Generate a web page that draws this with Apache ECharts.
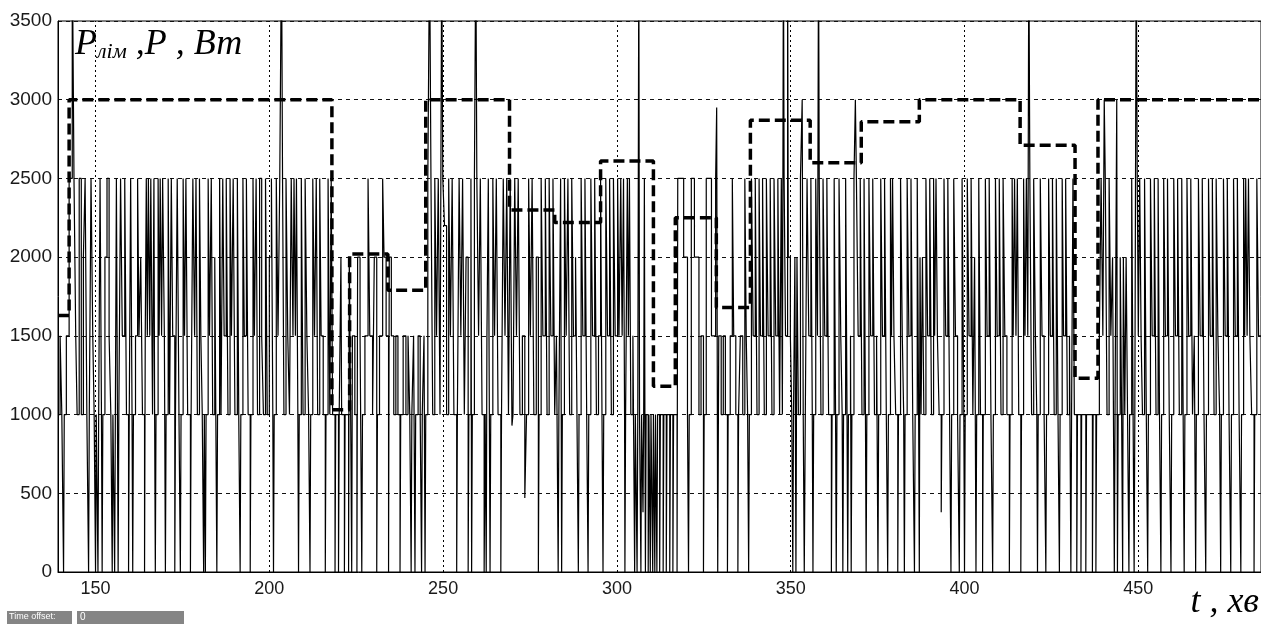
<!DOCTYPE html>
<html><head><meta charset="utf-8">
<script src="https://cdn.jsdelivr.net/npm/echarts@6/dist/echarts.min.js"></script>
<style>html,body{margin:0;padding:0;background:#fff}#c{width:1261px;height:624px}</style>
</head><body><div id="c"></div>
<script>
// x tick labels (time, min) and y ticks (W)
const xTicks = [150, 200, 250, 300, 350, 400, 450];
const yMax = 3500;

// P_lim (dashed) step data: [t, value from t on]
const pLim = [[139.2,1630],[142.4,3000],[218.0,1030],[223.1,2020],[234.1,1790],[245.0,3000],[269.1,2300],[282.1,2220],[295.3,2610],[310.5,1180],[316.8,2250],[328.6,1680],[338.4,2870],[355.6,2600],[370.3,2860],[387.0,3000],[416.0,2710],[431.8,1230],[438.4,3000],[485.3,3000]];

// P (solid) step data, read segment by segment: [t, value from t on]
const pSeg1 = [[139.2,1000],[139.8,1500],[140.3,1000],[140.8,0],[141.0,1000],[141.6,1500],[142.4,2500],[143.3,4000],[143.8,2500],[144.3,1500],[144.7,1000],[145.3,2500],[145.9,1000],[146.5,2000],[147.0,2500],[147.5,1000],[148.0,0],[148.2,1000],[148.7,2500],[149.2,1500],[149.6,1000],[150.0,0],[150.2,1000],[150.7,0],[150.9,1000],[151.3,2500],[151.7,1000],[151.9,0],[152.1,1000],[152.7,2000],[153.3,2500],[153.9,1500],[154.4,1000],[154.8,0],[155.0,1000],[155.5,0],[155.7,1000],[156.0,2500],[156.3,1000],[156.5,0],[156.7,1000],[157.2,2500],[157.7,1500],[158.4,2500],[158.9,1000],[159.5,0],[159.7,1000],[160.1,2500],[160.5,1000],[160.7,0],[160.9,1000],[161.5,1500],[162.1,2500],[162.5,1500],[163.0,2000],[163.5,1000],[164.1,0],[164.3,1500],[164.6,2500],[164.9,1500],[165.2,2500],[165.6,1500],[165.9,2500],[166.4,1000],[166.8,2500],[167.0,1000],[167.2,0],[167.4,1000],[168.0,2500],[168.3,1500],[168.6,2500],[169.0,1500],[169.3,2500],[169.8,1500],[170.1,0],[170.3,1000],[170.9,2500],[171.3,1000],[171.8,2500],[172.2,1500],[172.8,0],[173.0,1000],[173.5,2500],[174.0,1000],[174.4,0],[174.6,1000],[175.2,2500],[175.6,1500],[176.0,2500],[176.5,1000],[177.3,0],[177.5,1000],[178.0,2500],[178.5,1500],[178.9,2500],[179.3,1000],[179.9,2500],[180.3,1500],[180.7,1000],[181.1,0],[181.3,1000],[181.6,0],[181.8,1000],[182.4,2500],[182.8,1500],[183.3,2500],[183.7,1000],[184.3,2000],[184.6,1000],[184.9,0],[185.1,1000],[185.7,2500],[186.1,1000],[186.6,2500],[187.0,1500],[187.6,2500],[188.1,1000],[188.7,2500],[189.1,1500],[189.6,2500],[190.1,1000],[190.8,2500],[191.2,1000],[191.6,0],[191.8,1000],[192.4,2500],[192.8,1500],[193.4,2500],[193.9,1000],[194.5,0],[194.7,1000],[195.3,2500],[195.7,1500],[196.2,2500],[196.6,1000],[197.2,2500],[197.8,1500],[198.3,1000],[198.9,2500],[199.4,1000],[200.0,2000],[200.6,2500],[201.0,1000],[201.2,0],[201.4,1000],[202.0,2500],[202.5,1500],[203.0,2500],[203.5,4000],[203.8,2500],[204.2,1000],[204.8,2500],[205.3,1500],[205.8,1000],[206.3,2500],[206.8,1500],[207.1,2500],[207.5,1500],[207.8,2500],[208.2,1000],[208.4,0],[208.6,1000],[209.2,2500],[209.7,1000],[210.3,2500],[210.8,1500],[211.3,1000],[211.7,0],[211.9,1000],[212.5,2500],[213.0,1500],[213.5,2500],[213.9,1000],[214.5,2500],[214.9,1500],[215.5,1000],[216.1,0],[216.3,1000],[216.9,2500],[217.4,1000],[217.8,2500],[218.2,1000]];
const pSeg2 = [[218.9,0],[219.1,1000],[219.9,0],[220.1,1000],[220.6,2000],[220.8,1000],[221.6,0],[221.8,1000],[222.8,0],[223.0,2000],[223.4,1000],[223.7,0],[223.9,1500],[224.6,1000],[225.2,0],[225.4,2000],[226.1,1500],[226.6,0],[226.8,1000],[227.5,1500],[228.4,2500],[228.9,1500],[229.7,1000],[230.2,2000],[230.9,0],[231.1,1000],[231.7,1500],[232.6,2500],[233.0,2000],[233.6,1500],[234.3,0],[234.5,2000],[235.1,1500],[235.8,1000],[236.4,1500],[237.0,1000],[237.6,0],[237.8,1000],[238.5,1500],[239.3,1000],[239.9,1500],[240.4,1000],[240.8,0],[241.0,1000],[241.5,1500],[241.9,0],[242.1,1000],[242.8,1500],[243.4,1000],[243.8,0],[244.0,1000],[244.5,1500],[244.8,0],[245.0,1000]];
const pSeg3 = [[245.6,2500],[246.1,4000],[246.5,2500],[247.0,1000],[247.6,2500],[248.1,1500],[248.6,2500],[249.1,1000],[249.6,4000],[249.9,2500],[250.4,2200],[251.0,1000],[251.6,2500],[252.1,1500],[252.6,2500],[253.1,1000],[253.9,0],[254.1,1000],[254.6,2500],[255.1,1500],[255.6,2500],[256.1,1000],[256.6,2000],[257.2,0],[257.4,1000],[258.0,2500],[258.2,0],[258.4,1000],[259.0,2500],[259.4,4000],[259.7,2500],[260.2,1500],[260.7,2500],[261.2,1000],[261.8,0],[262.1,1000],[262.4,0],[262.6,1500],[263.0,2500],[263.3,1000],[263.5,0],[263.7,1000],[264.3,2500],[264.8,1500],[265.3,2500],[265.8,1000],[266.6,0],[266.8,1000],[267.3,2500],[267.8,1500],[268.3,2500],[268.8,1000],[269.3,2500],[269.8,930],[270.1,1000]];
const pSeg4 = [[270.6,2500],[271.1,1500],[271.6,2500],[272.1,1000],[272.8,1500],[273.5,470],[274.0,1000],[274.6,2500],[275.1,1500],[275.6,2500],[276.1,1000],[276.8,2000],[277.4,0],[277.6,1000],[278.2,2500],[278.7,1500],[279.4,2500],[279.9,1000],[280.5,2500],[281.0,1500],[281.6,2500],[282.1,1000],[282.6,1500],[283.1,0],[283.3,1000],[283.8,2500],[284.1,0],[284.3,1000],[284.9,2500],[285.4,1500],[285.9,2500],[286.4,1000],[287.0,2500],[287.5,1500],[288.1,2000],[288.5,1000],[288.9,0],[289.1,1000],[289.7,2500],[290.2,1500],[290.8,2500],[291.3,1000],[291.7,0],[291.9,1000],[292.5,2500],[293.0,1500],[293.6,2500],[294.1,1000],[294.7,1500],[295.3,2500],[295.7,1000],[296.0,0],[296.2,1000],[296.8,2500],[297.3,1500],[297.9,2500],[298.4,1000],[299.0,2500],[299.5,1500],[300.2,2500],[300.6,1500],[301.1,2500],[301.5,1500],[301.9,2500],[302.2,1000],[302.3,0],[302.5,1000],[303.0,2500],[303.3,1500],[303.6,2500],[304.0,1000],[304.6,1500],[305.1,0],[305.3,1000],[305.8,0],[306.0,1000],[306.3,4000],[306.5,1000],[306.9,0],[307.1,1000],[307.5,380],[307.7,1000],[307.9,2500],[308.05,1000],[308.2,0],[308.4,1000],[309.0,0],[309.2,1000],[309.6,0],[309.8,1000],[310.3,0],[310.5,1000],[310.9,0],[311.1,1000]];
const pSeg5 = [[311.5,0],[311.7,1000],[312.3,0],[312.5,1000],[313.3,0],[313.5,1000],[314.2,0],[314.4,1000],[315.2,0],[315.4,1000],[316.1,0],[316.3,1000],[317.3,0],[317.5,2500],[319.2,2000],[320.3,1000],[320.6,0],[320.8,1000],[321.4,2500],[322.3,2000],[323.6,1000],[324.2,1500],[324.9,0],[325.1,1000],[325.7,2500],[327.2,1500],[328.4,2500],[328.7,2950],[329.0,0],[329.3,1500]];
const pSeg6 = [[330.0,1000],[330.6,1500],[331.2,1000],[331.8,0],[332.0,1000],[332.6,1500],[333.2,2500],[333.6,1500],[334.2,1000],[334.8,0],[335.0,1000],[335.5,1500],[336.2,1000],[336.8,2500],[337.2,1500],[337.6,1000],[337.9,0],[338.1,1000],[338.7,2500],[339.2,1500],[339.8,2500],[340.3,1000],[340.9,2500],[341.3,1500],[341.9,2500],[342.4,1000],[343.0,2500],[343.5,1500],[344.1,2500],[344.6,1000],[345.2,2500],[345.7,1500],[346.3,2500],[346.8,1000],[347.3,2500],[347.6,1000],[347.9,4000],[348.1,2500],[348.5,1500],[349.1,4000],[349.3,2000],[349.9,1500],[350.3,1000],[350.6,0],[350.8,1000],[351.2,2000],[351.5,0],[351.8,2000],[352.2,1000],[352.8,2500],[353.3,3000],[353.6,1000],[353.9,0],[354.2,1000],[354.7,2500],[355.2,1500],[355.8,2500],[356.2,1000],[356.4,0],[356.6,1000],[357.2,2500],[357.7,1500],[358.0,4000],[358.2,2500],[358.7,1000],[359.3,2500],[359.8,1500],[360.4,2500],[360.9,1000],[361.7,0],[361.9,1000],[362.5,2500],[362.9,1000],[363.1,0],[363.3,1000],[363.9,2500],[364.4,1500],[364.8,1000],[365.0,0],[365.2,1000],[365.8,2500],[366.2,1000],[366.4,0],[366.6,1000],[367.2,1500],[367.4,0],[367.6,1000],[368.2,2500],[368.6,3000],[368.9,2500],[369.4,1500],[370.0,2500],[370.5,1000],[371.1,2500],[371.5,1000],[371.7,0],[371.9,1000],[372.5,2500],[373.0,1500],[373.6,2500],[374.1,1000],[374.7,1500],[375.1,0],[375.3,1000],[375.9,2500],[376.4,1500],[377.0,2500],[377.5,1000],[377.9,0],[378.1,1000],[378.7,2500],[379.0,1500],[379.3,2500],[379.7,1500],[380.2,1000],[380.8,0],[381.0,1000],[381.6,2500],[382.1,1500],[382.5,1000],[382.7,0],[382.9,1000],[383.5,2500],[384.0,1500],[384.6,2500],[385.1,1000],[385.6,0],[385.8,1000],[386.4,2500],[386.8,1000],[387.0,0],[387.2,2000],[387.5,1000],[387.9,2000],[388.3,1000],[388.9,2500],[389.4,1500],[390.0,2500],[390.5,1000],[391.1,2500],[391.4,1500],[391.8,2500],[392.2,1500],[392.7,1000],[393.3,380],[393.5,1000],[394.1,2500],[394.6,1500],[395.2,2500],[395.7,1000],[396.1,0],[396.3,1000],[396.9,2500],[397.4,1500],[398.0,1000]];
const pSeg7 = [[398.5,0],[398.7,1000],[399.3,2500],[399.8,1000],[400.0,0],[400.2,1000],[400.8,2500],[401.3,1500],[401.9,2500],[402.4,1000],[402.9,2000],[403.3,0],[403.5,1000],[404.1,2500],[404.6,1000],[405.2,0],[405.4,1000],[406.0,2500],[406.5,1500],[407.1,2500],[407.6,1000],[408.1,0],[408.3,1000],[408.9,2500],[409.4,1500],[410.0,2500],[410.5,1000],[411.1,2500],[411.6,1500],[412.2,1000],[412.9,0],[413.1,1000],[413.7,2500],[414.0,1500],[414.4,2500],[414.8,1500],[415.2,2500],[415.6,1000],[416.2,0],[416.4,1000],[417.0,2500],[417.4,1500],[417.8,2500],[418.2,1500],[418.5,4000],[418.8,2500],[419.3,1000],[419.9,2500],[420.4,1500],[420.8,1000],[421.0,0],[421.2,1000],[421.8,2500],[422.3,1500],[422.9,1000],[423.4,0],[423.6,1000],[424.2,2500],[424.7,1500],[425.3,2500],[425.8,1000],[426.4,2500],[426.9,1000],[427.3,0],[427.5,1000],[428.1,2500],[428.5,1500],[429.1,2500],[429.6,1000],[430.2,1500],[430.6,0],[430.8,1000],[431.2,2500],[431.6,1000],[432.3,0],[432.5,1000],[433.5,0],[433.7,1000],[434.9,0],[435.1,1000],[436.8,0],[437.0,1000],[437.8,0],[438.0,1000],[438.8,1500],[439.3,2500],[439.8,1500],[440.2,3000],[440.5,2500],[441.0,1000],[441.6,2500],[442.1,1500],[442.6,2000],[443.1,0],[443.3,1000],[443.8,3000],[444.0,0],[444.2,1000],[444.8,2000],[445.2,1000],[445.5,0],[445.7,2000],[446.1,1000],[446.5,2000],[446.9,1000],[447.3,0],[447.5,1000],[448.1,2500],[448.5,1000],[448.8,0],[449.0,1000],[449.4,4000],[449.7,2500],[450.0,1500],[450.4,2500],[450.8,1500],[451.2,1000],[451.8,2500],[452.3,1000],[452.7,0],[452.9,1000],[453.5,2500],[454.0,1500],[454.6,2500],[455.1,1000],[455.7,2500],[456.1,1000],[456.5,0],[456.7,1000],[457.3,2500],[457.8,1500],[458.4,2500],[458.9,1000],[459.4,0],[459.6,1000],[460.2,2500],[460.7,1500],[461.3,2500],[461.8,1000],[462.5,2500],[462.9,1000],[463.2,0],[463.4,1000],[464.0,2500],[464.5,1500],[465.1,2500],[465.6,1000],[466.1,1500],[466.5,0],[466.7,1000],[467.3,2500],[467.8,1500],[468.4,2500],[468.9,1000],[469.4,0],[469.6,1000],[470.2,2500],[470.7,1500],[471.3,2500],[471.8,1000],[472.4,2500],[472.9,1500],[473.4,1000],[473.7,0],[473.9,1000],[474.5,2500],[475.0,1500],[475.6,2500],[476.1,1000],[476.6,0],[476.8,1000],[477.4,2500],[477.9,1500],[478.5,2500],[479.0,1000],[479.5,0],[479.7,1000],[480.3,2500],[480.6,1500],[480.9,2500],[481.3,1500],[481.7,2500],[482.1,1500],[482.6,1000],[483.3,0],[483.5,1000],[484.1,2500],[484.6,1500],[485.3,1500]];

const pSolid = [].concat(pSeg1, pSeg2, pSeg3, pSeg4, pSeg5, pSeg6, pSeg7);

const chart = echarts.init(document.getElementById('c'), null, {renderer: 'canvas'});
const serif = 'Liberation Serif, Times New Roman, serif';
const sans = 'Liberation Sans, Arial, sans-serif';
chart.setOption({
  animation: false,
  backgroundColor: '#fff',
  grid: {left: 58, top: 21, right: -1, bottom: 52, show: true, borderColor: '#000', borderWidth: 1, backgroundColor: '#fff'},
  xAxis: {
    type: 'value', min: 139.2, max: 485.3,
    axisLine: {show: true, onZero: false, lineStyle: {color: '#000', width: 1}},
    axisTick: {show: false},
    splitLine: {show: false},
    axisLabel: {customValues: xTicks, margin: 8, formatter: v => String(v), fontFamily: sans, fontSize: 18, color: '#1a1a1a'}
  },
  yAxis: {
    type: 'value', min: 0, max: yMax, interval: 500,
    axisLine: {show: true, lineStyle: {color: '#000', width: 1}},
    axisTick: {show: false},
    splitLine: {show: true, lineStyle: {color: '#111', width: 1, type: [4, 4]}},
    axisLabel: {margin: 6, formatter: v => String(v), fontFamily: sans, fontSize: 19, color: '#1a1a1a'}
  },
  series: [
    {
      type: 'line', name: 'P', data: pSolid, step: 'end', symbol: 'none', clip: true,
      lineStyle: {color: '#000', width: 1.2}, z: 2,
      markLine: {
        silent: true, symbol: ['none', 'none'], label: {show: false},
        lineStyle: {color: '#000', width: 1, type: [2, 3]},
        data: xTicks.map(v => ({xAxis: v})), z: 1, animation: false
      }
    },
    {
      type: 'line', name: 'Plim', data: pLim, step: 'end', symbol: 'none', clip: true,
      lineStyle: {color: '#000', width: 3.5, type: [11, 5]}, z: 3
    }
  ],
  graphic: [
    {type: 'text', left: 75, top: 27, z: 100, style: {
      text: '{a|P}{b|лім}{a| ,P , Вт}',
      rich: {
        a: {fontFamily: serif, fontStyle: 'italic', fontSize: 36, fill: '#000', lineHeight: 40, verticalAlign: 'bottom'},
        b: {fontFamily: serif, fontStyle: 'italic', fontSize: 22, fill: '#000', lineHeight: 32, verticalAlign: 'bottom'}
      }
    }},
    {type: 'text', right: 2, top: 585, z: 100, style: {
      text: 't , хв', fontFamily: serif, fontStyle: 'italic', fontSize: 36, fill: '#000'
    }},
    {type: 'rect', left: 7, top: 611, z: 100, shape: {width: 65, height: 13}, style: {fill: '#858585'}},
    {type: 'text', left: 9, top: 612, z: 101, style: {text: 'Time offset:', fontFamily: sans, fontSize: 9, fill: '#fff'}},
    {type: 'rect', left: 77, top: 611, z: 100, shape: {width: 107, height: 13}, style: {fill: '#858585'}},
    {type: 'text', left: 80, top: 612, z: 101, style: {text: '0', fontFamily: sans, fontSize: 10, fill: '#fff'}}
  ]
});
</script>
</body></html>
